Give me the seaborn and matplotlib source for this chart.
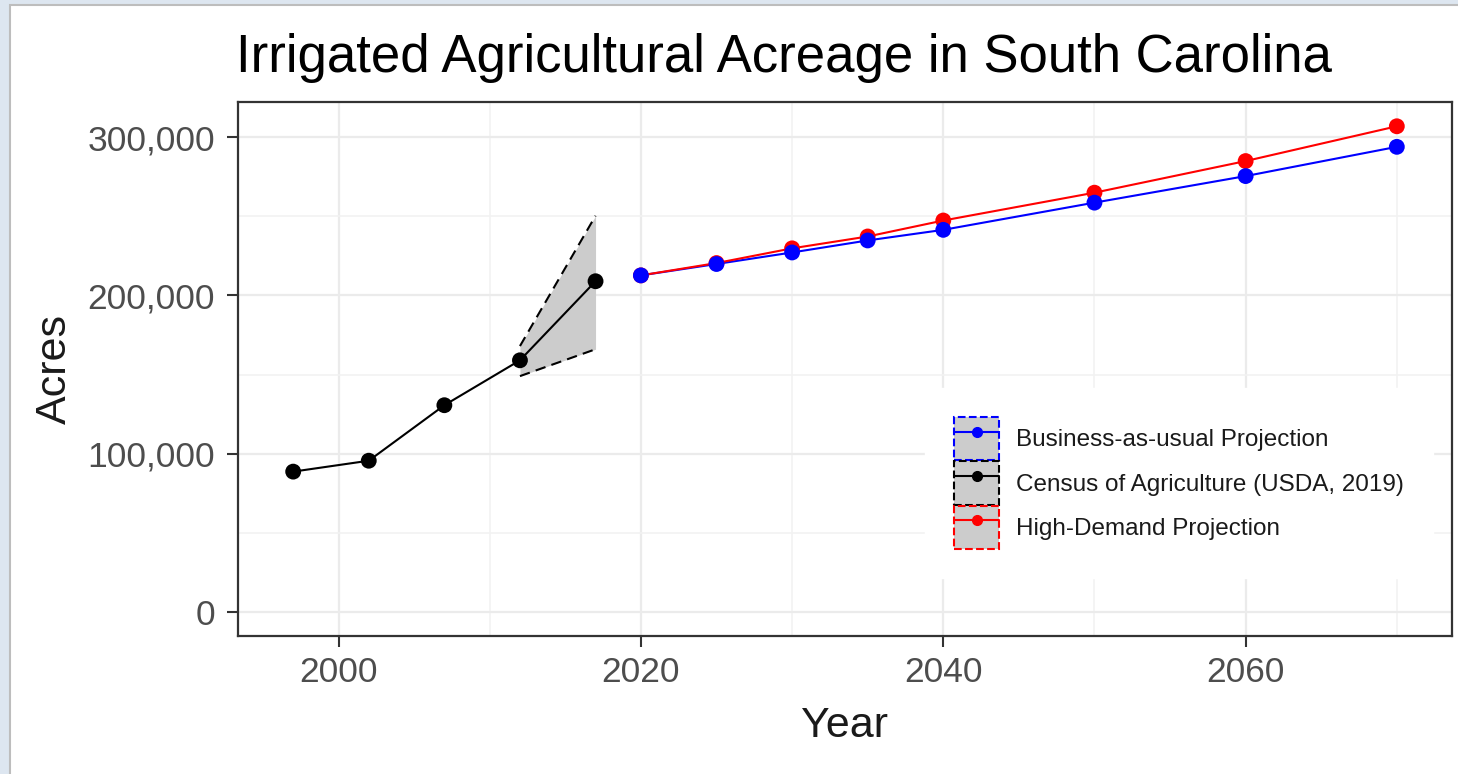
import seaborn as sns
import pandas as pd
import matplotlib.pyplot as plt
from matplotlib.patches import Patch, Rectangle
from matplotlib.lines import Line2D
from matplotlib.legend_handler import HandlerTuple
from matplotlib.ticker import FuncFormatter, MultipleLocator

# Census of Agriculture (historic)
census_years = [1997, 2002, 2007, 2012, 2017]
census_acres = [88600, 95500, 130600, 159000, 209000]

# uncertainty band around the last census points
ribbon_years = [2012, 2017]
ribbon_low = [149000, 166000]
ribbon_high = [168000, 250400]

# projections
proj_years = [2020, 2025, 2030, 2035, 2040, 2050, 2060, 2070]
bau_acres = [212700, 219900, 227200, 234800, 241500, 258700, 275500, 294000]
high_acres = [212700, 220500, 229800, 237300, 247400, 265000, 285000, 307000]

lab_bau = "Business-as-usual Projection"
lab_census = "Census of Agriculture (USDA, 2019)"
lab_high = "High-Demand Projection"
colors = {lab_bau: "blue", lab_census: "black", lab_high: "red"}

df = pd.concat([
    pd.DataFrame({"year": census_years, "acres": census_acres, "series": lab_census}),
    pd.DataFrame({"year": proj_years, "acres": high_acres, "series": lab_high}),
    pd.DataFrame({"year": proj_years, "acres": bau_acres, "series": lab_bau}),
], ignore_index=True)

sns.set_theme(style="white")
plt.rcParams['font.family'] = ['Liberation Sans', 'DejaVu Sans']

W, H = 1458, 774
fig = plt.figure(figsize=(W / 100, H / 100), dpi=100, facecolor="#dde6f0")
# white page on the light-blue screenshot frame
fig.add_artist(Rectangle((10 / W, -0.01), 1.0, 1 - 5 / H + 0.01, transform=fig.transFigure,
                         facecolor="white", edgecolor="#bdbdbd", lw=1.5, zorder=-5))

ax = fig.add_axes([238 / W, 1 - 636 / H, 1214 / W, 534 / H])
ax.set_facecolor("white")

# ribbon with dashed bounds
ax.fill_between(ribbon_years, ribbon_low, ribbon_high, color="#cccccc", lw=0, zorder=1)
ax.plot(ribbon_years, ribbon_low, color="black", lw=1.5, dashes=(5, 3), zorder=2)
ax.plot(ribbon_years, ribbon_high, color="black", lw=1.5, dashes=(5, 3), zorder=2)

# lines: blue first, red over it
sns.lineplot(data=df, x="year", y="acres", hue="series",
             hue_order=[lab_census, lab_bau, lab_high], palette=colors,
             lw=1.5, legend=False, sort=False, ax=ax, zorder=2)
# points: drawn in row order, so blue ends up on top
sns.scatterplot(data=df, x="year", y="acres", hue="series", palette=colors,
                s=130, linewidth=0, legend=False, ax=ax, zorder=3)

# limits with ggplot-like 5% expansion
xmin, xmax = min(census_years), max(proj_years)
ymax = max(high_acres)
ax.set_xlim(xmin - 0.05 * (xmax - xmin), xmax + 0.05 * (xmax - xmin))
ax.set_ylim(-0.05 * ymax, ymax * 1.05)

ax.xaxis.set_major_locator(MultipleLocator(20))
ax.xaxis.set_minor_locator(MultipleLocator(10))
ax.yaxis.set_major_locator(MultipleLocator(100000))
ax.yaxis.set_minor_locator(MultipleLocator(50000))
ax.yaxis.set_major_formatter(FuncFormatter(lambda v, p: f"{int(v):,}"))

ax.grid(which="major", color="#ebebeb", lw=1.6, zorder=0)
ax.grid(which="minor", color="#f2f2f2", lw=1.2, zorder=0)
ax.set_axisbelow(True)

ax.tick_params(which="major", length=8, width=1.5, color="#333333",
               labelsize=25.5, labelcolor="#4d4d4d", bottom=True, left=True)
ax.tick_params(axis="x", pad=6.5)
ax.tick_params(axis="y", pad=8.5)
ax.tick_params(which="minor", length=0)
for sp in ax.spines.values():
    sp.set_visible(True)
    sp.set_color("#333333")
    sp.set_linewidth(1.6)

ax.set_xlabel("Year", fontsize=31, color="#1a1a1a", va="top")
ax.xaxis.set_label_coords(0.5, (636 - 706) / 534)
ax.set_ylabel("Acres", fontsize=31, color="#1a1a1a", va="center")
ax.yaxis.set_label_coords((55 - 238) / 1214, 0.5)

fig.text(784 / W, 1 - 72 / H, "Irrigated Agricultural Acreage in South Carolina",
         ha="center", va="baseline", fontsize=38, color="black")

# legend keys: grey box with dashed coloured border, line and point on top
handles = []
for lab in [lab_bau, lab_census, lab_high]:
    c = colors[lab]
    box = Patch(facecolor="#cccccc", edgecolor=c, linestyle="--", lw=1.5)
    ln = Line2D([], [], color=c, marker="o", markersize=7, lw=1.5)
    handles.append((box, ln))
leg = ax.legend(handles, [lab_bau, lab_census, lab_high],
                handler_map={tuple: HandlerTuple(ndivide=1, pad=0)},
                loc="upper left", bbox_to_anchor=((925 - 238) / 1214, (636 - 388) / 534),
                fontsize=17.5, frameon=True, facecolor="white", edgecolor="white",
                framealpha=1, fancybox=False, borderpad=1.2,
                handlelength=1.85, handleheight=2.35, handletextpad=0.7,
                labelspacing=0.05, borderaxespad=0)
for t in leg.get_texts():
    t.set_color("#1a1a1a")

fig.savefig("out.png", dpi=100, facecolor=fig.get_facecolor())
